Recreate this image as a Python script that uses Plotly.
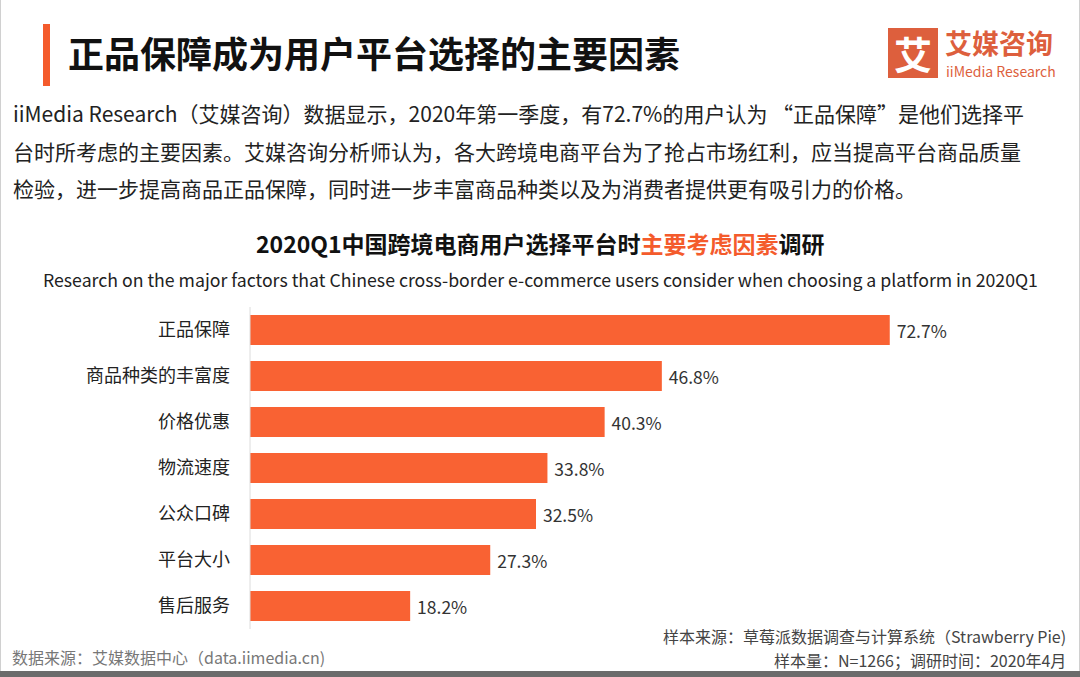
import plotly.graph_objects as go

categories = ["正品保障", "商品种类的丰富度", "价格优惠", "物流速度", "公众口碑", "平台大小", "售后服务"]
values = [72.7, 46.8, 40.3, 33.8, 32.5, 27.3, 18.2]
value_labels = [f" {v:.1f}%" for v in values]

title = "正品保障成为用户平台选择的主要因素"
para = [
    "iiMedia Research（艾媒咨询）数据显示，2020年第一季度，有72.7%的用户认为 “正品保障”是他们选择平",
    "台时所考虑的主要因素。艾媒咨询分析师认为，各大跨境电商平台为了抢占市场红利，应当提高平台商品质量",
    "检验，进一步提高商品正品保障，同时进一步丰富商品种类以及为消费者提供更有吸引力的价格。",
]
chart_title = "<b>2020Q1中国跨境电商用户选择平台时<span style='color:#f45b2c'>主要考虑因素</span>调研</b>"
subtitle = "Research on the major factors that Chinese cross-border e-commerce users consider when choosing a platform in 2020Q1"
src_right1 = "样本来源：草莓派数据调查与计算系统（Strawberry Pie)"
src_right2 = "样本量：N=1266；调研时间：2020年4月"
src_left = "数据来源：艾媒数据中心（data.iimedia.cn)"

W, H = 1080, 677
L, R, T, B = 250, 80, 307, 48
PW, PH = W - L - R, H - T - B
FONT = "Noto Sans CJK SC"
ORANGE = "#f96233"

def px(x):
    return (x - L) / PW

def py(y):
    return (H - B - y) / PH

fig = go.Figure(go.Bar(
    y=categories, x=values, orientation="h",
    marker=dict(color=ORANGE, line=dict(width=0)),
    width=0.65,
    text=value_labels, textposition="outside",
    textfont=dict(size=17.5, color="#333", family=FONT),
    cliponaxis=False,
))

ann = []
ann.append(dict(x=px(66), y=py(52), text=f"<b>{title}</b>", xanchor="left", yanchor="middle",
                font=dict(size=36, color="#111", family=FONT)))
for i, line in enumerate(para):
    ann.append(dict(x=px(11), y=py(113 + i * 37.5), text=line, xanchor="left", yanchor="middle",
                    font=dict(size=21, color="#222", family=FONT)))
ann.append(dict(x=px(540), y=py(243), text=chart_title, xanchor="center", yanchor="middle",
                font=dict(size=23, color="#111", family=FONT)))
ann.append(dict(x=px(540), y=py(279), text=subtitle, xanchor="center", yanchor="middle",
                font=dict(size=17.7, color="#222", family=FONT)))
ann.append(dict(x=px(1068), y=py(636), text=src_right1, xanchor="right", yanchor="middle",
                font=dict(size=16, color="#444", family=FONT)))
ann.append(dict(x=px(1068), y=py(660), text=src_right2, xanchor="right", yanchor="middle",
                font=dict(size=16, color="#444", family=FONT)))
ann.append(dict(x=px(10), y=py(657), text=src_left, xanchor="left", yanchor="middle",
                font=dict(size=16, color="#777", family=FONT)))
# logo texts
ann.append(dict(x=px(913), y=py(53), text="<b>艾</b>", xanchor="center", yanchor="middle",
                font=dict(size=38, color="white", family=FONT)))
ann.append(dict(x=px(944), y=py(42), text="<b>艾媒咨询</b>", xanchor="left", yanchor="middle",
                font=dict(size=27, color="#dd5f3d", family=FONT), borderpad=0))
ann.append(dict(x=px(945), y=py(71), text="iiMedia Research", xanchor="left", yanchor="middle",
                font=dict(size=14, color="#dd5f3d", family=FONT), borderpad=0))
for a in ann:
    a.update(xref="paper", yref="paper", showarrow=False)

shapes = [
    dict(type="rect", xref="paper", yref="paper", x0=px(43), x1=px(50), y0=py(24), y1=py(86),
         fillcolor="#f45b2c", line=dict(width=0)),
    dict(type="rect", xref="paper", yref="paper", x0=px(888), x1=px(938), y0=py(28), y1=py(78),
         fillcolor="#dd5f3d", line=dict(width=0)),
    dict(type="rect", xref="paper", yref="paper", x0=px(0), x1=px(1080), y0=py(671), y1=py(677),
         fillcolor="#6b6b6b", line=dict(width=0)),
    dict(type="line", xref="paper", yref="paper", x0=px(0.5), x1=px(0.5), y0=py(0), y1=py(671),
         line=dict(color="#d0d0d0", width=1)),
    dict(type="line", xref="paper", yref="paper", x0=px(1079.5), x1=px(1079.5), y0=py(0), y1=py(671),
         line=dict(color="#d0d0d0", width=1)),
    dict(type="line", xref="paper", yref="paper", x0=px(250), x1=px(250), y0=py(307), y1=py(629),
         line=dict(color="#dcdcdc", width=1)),
]

fig.update_layout(
    width=W, height=H,
    margin=dict(l=L, r=R, t=T, b=B),
    paper_bgcolor="white", plot_bgcolor="white",
    showlegend=False,
    annotations=ann, shapes=shapes,
    xaxis=dict(range=[0, PW / 8.80], visible=False, fixedrange=True),
    yaxis=dict(autorange="reversed", showgrid=False, showline=False, zeroline=False,
               ticks="", ticklabelstandoff=19,
               tickfont=dict(size=18, color="#222", family=FONT)),
    bargap=0.35,
)

fig.write_html("out.html")
